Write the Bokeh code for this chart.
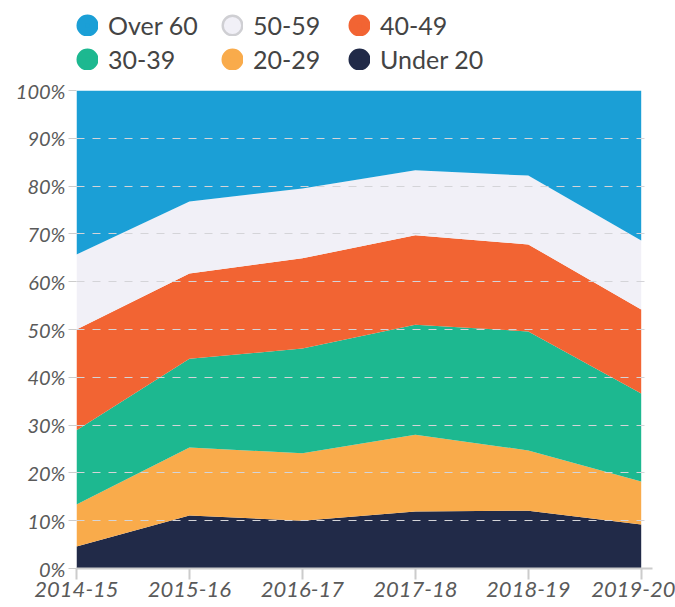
from bokeh.plotting import figure
from bokeh.layouts import column
from bokeh.models import (Legend, LegendItem, FixedTicker, NumeralTickFormatter,
                          ColumnDataSource)
from bokeh.embed import file_html
from bokeh.resources import INLINE

years = ["2014-15", "2015-16", "2016-17", "2017-18", "2018-19", "2019-20"]
under20 = [4.6, 11.1, 10.0, 11.9, 12.1, 9.2]
a20_29 = [8.8, 14.2, 14.1, 16.1, 12.6, 9.0]
a30_39 = [15.5, 18.6, 21.9, 23.0, 24.9, 18.4]
a40_49 = [21.1, 17.8, 18.9, 18.7, 18.2, 17.6]
a50_59 = [15.7, 15.1, 14.6, 13.6, 14.4, 14.4]
over60 = [34.3, 23.2, 20.5, 16.7, 17.8, 31.4]

series = ["Under 20", "20-29", "30-39", "40-49", "50-59", "Over 60"]
values = [under20, a20_29, a30_39, a40_49, a50_59, over60]
colors = ["#212a48", "#f9ab4b", "#1db890", "#f26433", "#f1f0f7", "#1b9fd6"]

FONT = "Lato"
NAN = float("nan")

x = list(range(len(years)))
data = {"x": x}
keys = []
for i, (name, vals) in enumerate(zip(series, values)):
    k = f"s{i}"
    keys.append(k)
    data[k] = [v / 100 for v in vals]
src = ColumnDataSource(data)

LEG_H = 78
p = figure(width=675, height=607 - LEG_H, output_backend="svg",
           toolbar_location=None, x_range=(0, 5.1), y_range=(0, 1),
           min_border_left=76, min_border_right=23, min_border_bottom=39,
           min_border_top=12)
p.outline_line_color = None
p.background_fill_color = "white"

p.varea_stack(stackers=keys, x="x", color=colors, source=src)

# axes
p.yaxis.ticker = FixedTicker(ticks=[i / 10 for i in range(11)])
p.yaxis.formatter = NumeralTickFormatter(format="0%")
p.yaxis.axis_line_color = None
p.yaxis.major_tick_line_color = "#cccccc"
p.yaxis.major_tick_in = 0
p.yaxis.major_tick_out = 8
p.yaxis.minor_tick_line_color = None
p.yaxis.major_label_standoff = 3
p.yaxis.major_label_text_font = FONT
p.yaxis.major_label_text_font_style = "italic"
p.yaxis.major_label_text_font_size = "20px"
p.yaxis.major_label_text_color = "#5a5a5a"

p.xaxis.ticker = FixedTicker(ticks=x)
p.xaxis.major_label_overrides = {i: y for i, y in enumerate(years)}
p.xaxis.axis_line_color = "#cccccc"
p.xaxis.axis_line_width = 2
p.xaxis.major_tick_line_color = "#cccccc"
p.xaxis.major_tick_line_width = 2
p.xaxis.major_tick_in = 0
p.xaxis.major_tick_out = 11
p.xaxis.minor_tick_line_color = None
p.xaxis.major_label_standoff = 2
p.xaxis.major_label_text_font = FONT
p.xaxis.major_label_text_font_style = "italic"
p.xaxis.major_label_text_font_size = "22px"
p.xaxis.major_label_text_color = "#5a5a5a"

p.xgrid.grid_line_color = None
p.ygrid.grid_line_color = "#d4d4d8"
p.ygrid.grid_line_dash = "8 8"
p.ygrid.grid_line_width = 1
p.ygrid.level = "overlay"

# legend figure (markers hold a single NaN point; only drawn in the legend)
lf = figure(width=675, height=LEG_H, output_backend="svg", toolbar_location=None,
            x_axis_location=None, y_axis_location=None,
            x_range=(0, 1), y_range=(0, 1), min_border=0)
lf.outline_line_color = None
lf.xgrid.visible = False
lf.ygrid.visible = False


def legend_item(i):
    if series[i] == "50-59":
        r1 = lf.scatter(x=[NAN], y=[NAN], size=8.8, fill_color="#cfcfd3",
                        line_color="#cfcfd3", line_width=13.2)
        r2 = lf.scatter(x=[NAN], y=[NAN], size=8.8, fill_color=colors[i],
                        line_color=colors[i], line_width=8.4)
        rs = [r1, r2]
    else:
        r = lf.scatter(x=[NAN], y=[NAN], size=8.8, fill_color=colors[i],
                       line_color=colors[i], line_width=13.2)
        rs = [r]
    return LegendItem(label=series[i], renderers=rs)


# three legend columns: (top item, bottom item)
legend_columns = [(5, 2), (4, 1), (3, 0)]
column_offsets = [0, 145, 272]
for (top, bottom), off in zip(legend_columns, column_offsets):
    leg = Legend(items=[legend_item(top), legend_item(bottom)],
                 orientation="vertical", location=(off, 4),
                 glyph_width=22, glyph_height=22, label_height=22,
                 spacing=4, label_standoff=10, label_text_font=FONT,
                 label_text_font_size="25px", label_text_color="#444444",
                 border_line_color=None, background_fill_alpha=0,
                 padding=2, margin=0)
    lf.add_layout(leg, "center")

layout = column(lf, p, spacing=0)
open("out.html", "w").write(file_html(layout, INLINE))
